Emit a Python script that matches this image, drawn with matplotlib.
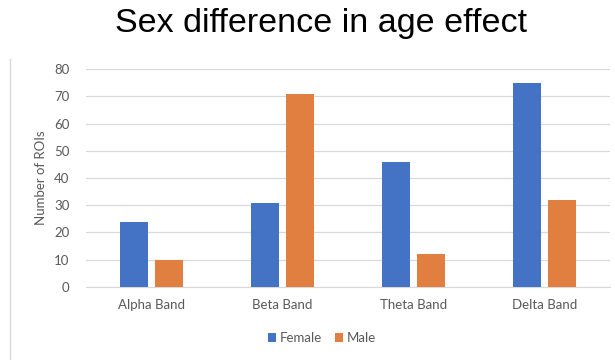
import numpy as np
import matplotlib
matplotlib.use("AGG")
import matplotlib.pyplot as plt
from matplotlib.lines import Line2D

bands = ["Alpha Band", "Beta Band", "Theta Band", "Delta Band"]
female = [24, 31, 46, 75]
male = [10, 71, 12, 32]

blue = "#4472c4"
orange = "#e07f3f"
grey_text = "#595959"

fig = plt.figure(figsize=(6.15, 3.6), dpi=100)
ax = fig.add_axes([0.14, 0.203, 0.852, 0.605])

x = np.arange(len(bands))
w = 0.215
ax.bar(x - 0.135, female, w, color=blue, label="Female", zorder=3)
ax.bar(x + 0.135, male, w, color=orange, label="Male", zorder=3)

ax.set_xlim(-0.5, len(bands) - 0.5)
ax.set_ylim(0, 80)
ax.set_yticks(range(0, 81, 10))
ax.set_xticks(x)
ax.set_xticklabels(bands)
ax.yaxis.grid(True, color="#d9d9d9", linewidth=0.9, zorder=0)
for side in ["top", "right", "left"]:
    ax.spines[side].set_visible(False)
ax.spines["bottom"].set_color("#d9d9d9")
ax.tick_params(axis="both", length=0, colors=grey_text, labelsize=9.5)
ax.tick_params(axis="x", pad=9)
ax.tick_params(axis="y", pad=12)
for lbl in ax.get_xticklabels() + ax.get_yticklabels():
    lbl.set_family("Lato")
ax.set_ylabel("Number of ROIs", family="Lato", fontsize=9.5, color=grey_text, labelpad=5)

fig.text(0.522, 0.935, "Sex difference in age effect", ha="center", va="center",
         family="Liberation Sans", fontsize=24.5, color="black")

ax.legend(loc="center", bbox_to_anchor=(0.45, -0.235), ncol=2, frameon=False,
          prop={"family": "Lato", "size": 9.5}, labelcolor=grey_text,
          handlelength=0.6, handleheight=0.6, handletextpad=0.3, columnspacing=1.0)

# thin frame edge down the left side
fig.add_artist(Line2D([0.017, 0.017], [0.0, 0.835], transform=fig.transFigure,
                      color="#d9d9d9", linewidth=1.0))

fig.savefig("out.png", dpi=100)
